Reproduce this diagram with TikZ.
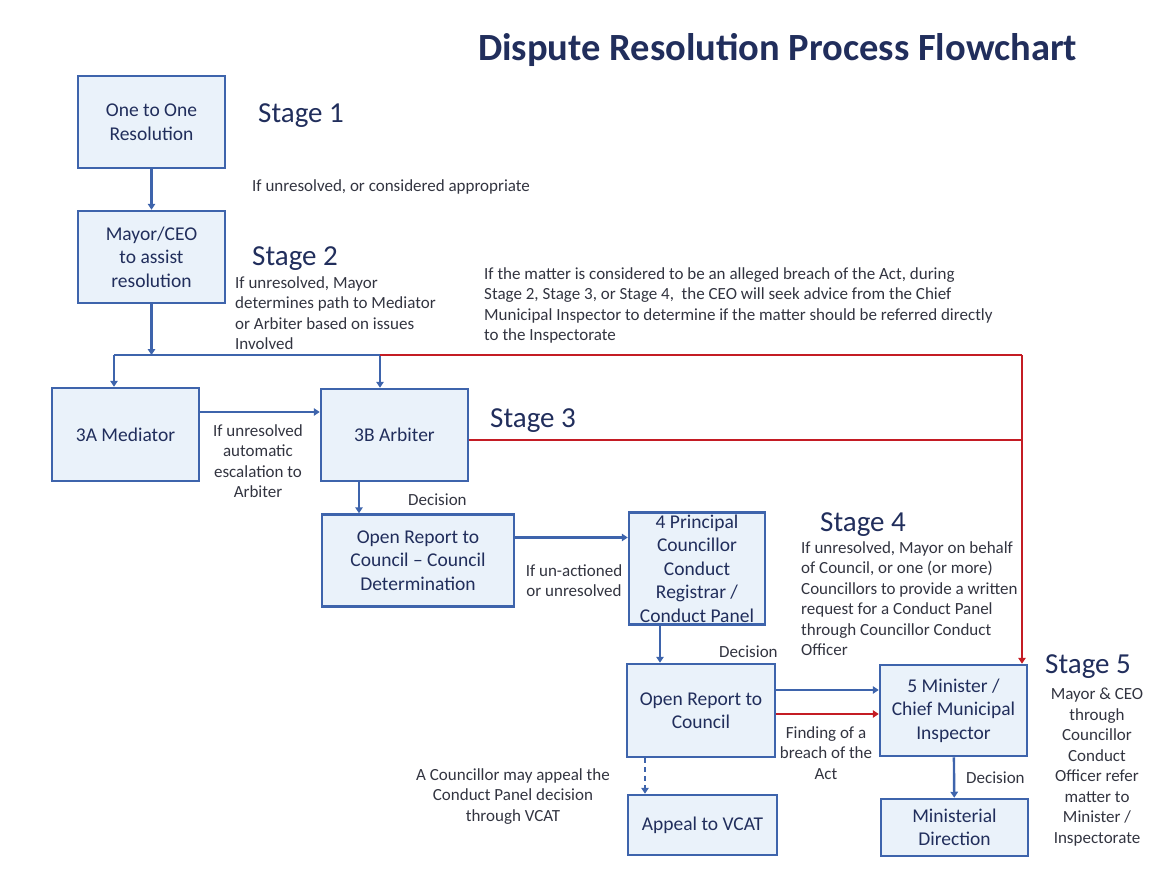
\documentclass[tikz,border=0pt]{standalone}
\usepackage{fontspec}
\setmainfont{Carlito}
\usepackage{xcolor}
\usetikzlibrary{arrows.meta}

\definecolor{boxblue}{RGB}{62,100,172}
\definecolor{boxfill}{RGB}{234,242,250}
\definecolor{navy}{RGB}{33,46,92}
\definecolor{notegray}{RGB}{50,52,64}
\definecolor{breachred}{RGB}{196,28,36}

\tikzset{
  procbox/.style={draw=boxblue, fill=boxfill, line width=2.5pt, align=center, text=navy,
    font=\fontsize{19.5}{23.5}\selectfont, inner sep=2pt},
  stagelbl/.style={text=navy, font=\fontsize{29}{32}\selectfont, inner sep=0pt},
  note/.style={text=notegray, font=\fontsize{17}{20.5}\selectfont, inner sep=0pt},
  flow/.style={draw=boxblue, line width=2.4pt, -{Triangle[length=6pt,width=7.5pt]}},
  flowline/.style={draw=boxblue, line width=2.4pt},
  breach/.style={draw=breachred, line width=2.4pt, -{Triangle[length=6pt,width=7.5pt]}},
  breachline/.style={draw=breachred, line width=2.4pt},
}

\begin{document}
\begin{tikzpicture}[x=1pt,y=1pt,yscale=-1,xscale=1]
\useasboundingbox (0,0) rectangle (1167,872);

% Title
\node (title) [anchor=west, text=navy, font=\fontsize{38.5}{42}\selectfont\bfseries, inner sep=0pt] at (478,50) {Dispute Resolution Process Flowchart};

% Boxes
\node (oneone) [procbox, minimum width=147, minimum height=92] at (151.5,122) {One to One\\Resolution};
\node (mayor) [procbox, minimum width=147, minimum height=92] at (151.5,257) {Mayor/CEO\\to assist\\resolution};
\node (mediator) [procbox, minimum width=147, minimum height=93] at (125.5,434.5) {3A Mediator};
\node (arbiter) [procbox, minimum width=147, minimum height=92] at (394.5,435) {3B Arbiter};
\node (openrep) [procbox, minimum width=192, minimum height=92] at (418,560.5) {Open Report to\\Council -- Council\\Determination};
\node (principal) [procbox, minimum width=136, minimum height=112, inner sep=0pt] at (697,568.5) {4 Principal\\Councillor\\Conduct\\Registrar /\\Conduct Panel};
\node (reportcl) [procbox, minimum width=148, minimum height=93] at (701,710.5) {Open Report to\\Council};
\node (minister) [procbox, minimum width=147, minimum height=91] at (953.5,710.5) {5 Minister /\\Chief Municipal\\Inspector};
\node (appeal) [procbox, minimum width=149, minimum height=60] at (702.5,825) {Appeal to VCAT};
\node (direction) [procbox, minimum width=147, minimum height=57] at (954.5,827.5) {Ministerial\\Direction};

% Stage labels
\node (stage1) [stagelbl, anchor=west] at (258,116) {Stage 1};
\node (stage2) [stagelbl, anchor=west] at (252,259) {Stage 2};
\node (stage3) [stagelbl, anchor=west] at (490,421) {Stage 3};
\node (stage4) [stagelbl, anchor=west] at (820,525) {Stage 4};
\node (stage5) [stagelbl, anchor=west] at (1045,667) {Stage 5};

% Notes
\node (appropriate) [note, anchor=west] at (252,187) {If unresolved, or considered appropriate};
\node (pathnote) [note, anchor=north west, align=left] at (235,276) {If unresolved, Mayor\\determines path to Mediator\\or Arbiter based on issues\\Involved};
\node (actnote) [note, anchor=north west, align=left] at (484,267) {If the matter is considered to be an alleged breach of the Act, during\\Stage 2, Stage 3, or Stage 4,\ \ the CEO will seek advice from the Chief\\Municipal Inspector to determine if the matter should be referred directly\\to the Inspectorate};
\node (escalate) [note, anchor=north, align=center] at (258,424) {If unresolved\\automatic\\escalation to\\Arbiter};
\node (dec3) [note, anchor=west] at (408,500) {Decision};
\node (unaction) [note, anchor=north, align=center] at (574,564) {If un-actioned\\or unresolved};
\node (panelnote) [note, anchor=north west, align=left] at (801,541) {If unresolved, Mayor on behalf\\of Council, or one (or more)\\Councillors to provide a written\\request for a Conduct Panel\\through Councillor Conduct\\Officer};
\node (dec4) [note, anchor=west] at (719,652) {Decision};
\node (finding) [note, anchor=north, align=center] at (826,726) {Finding of a\\breach of the\\Act};
\node (vcatnote) [note, anchor=north, align=center] at (513,768) {A Councillor may appeal the\\Conduct Panel decision\\through VCAT};
\node (dec5) [note, anchor=west] at (966,778) {Decision};
\node (refernote) [note, anchor=north, align=center] at (1097,688) {Mayor \& CEO\\through\\Councillor\\Conduct\\Officer refer\\matter to\\Minister /\\Inspectorate};

% Junction points
\coordinate (jmed) at (114,355);
\coordinate (jmayor) at (151.5,355);
\coordinate (jarb) at (380,355);
\coordinate (jred) at (1022,355);

% Connectors
\draw [flow] (oneone) -- (mayor);
\draw [flow] (mayor) -- (jmayor);
\draw [flowline] (jmed) -- (jarb);
\draw [flow] (jmed) -- (jmed |- mediator.north);
\draw [flow] (jarb) -- (jarb |- arbiter.north);
\draw [breachline] (jarb) -- (jred);
\draw [breach] (jred) -- (jred |- minister.north);
\draw [breachline] ([yshift=5pt]arbiter.east) -- ([yshift=5pt]arbiter.east -| jred);
\draw [flow] ([yshift=-22.5pt]mediator.east) -- ([yshift=-22.5pt]mediator.east -| arbiter.west);
\draw [flow] ([xshift=-35.5pt]arbiter.south) -- ([xshift=-35.5pt]arbiter.south |- openrep.north);
\draw [flow] ([yshift=-23pt]openrep.east) -- ([yshift=-23pt]openrep.east -| principal.west);
\draw [flow] ([xshift=-37pt]principal.south) -- ([xshift=-37pt]principal.south |- reportcl.north);
\draw [flow] ([yshift=-20.5pt]reportcl.east) -- ([yshift=-20.5pt]reportcl.east -| minister.west);
\draw [breach] ([yshift=3.5pt]reportcl.east) -- ([yshift=3.5pt]reportcl.east -| minister.west);
\draw [flow, dash pattern=on 5pt off 4pt] ([xshift=-56pt]reportcl.south) -- ([xshift=-56pt]reportcl.south |- appeal.north);
\draw [flow] (minister) -- (direction);

\end{tikzpicture}
\end{document}
